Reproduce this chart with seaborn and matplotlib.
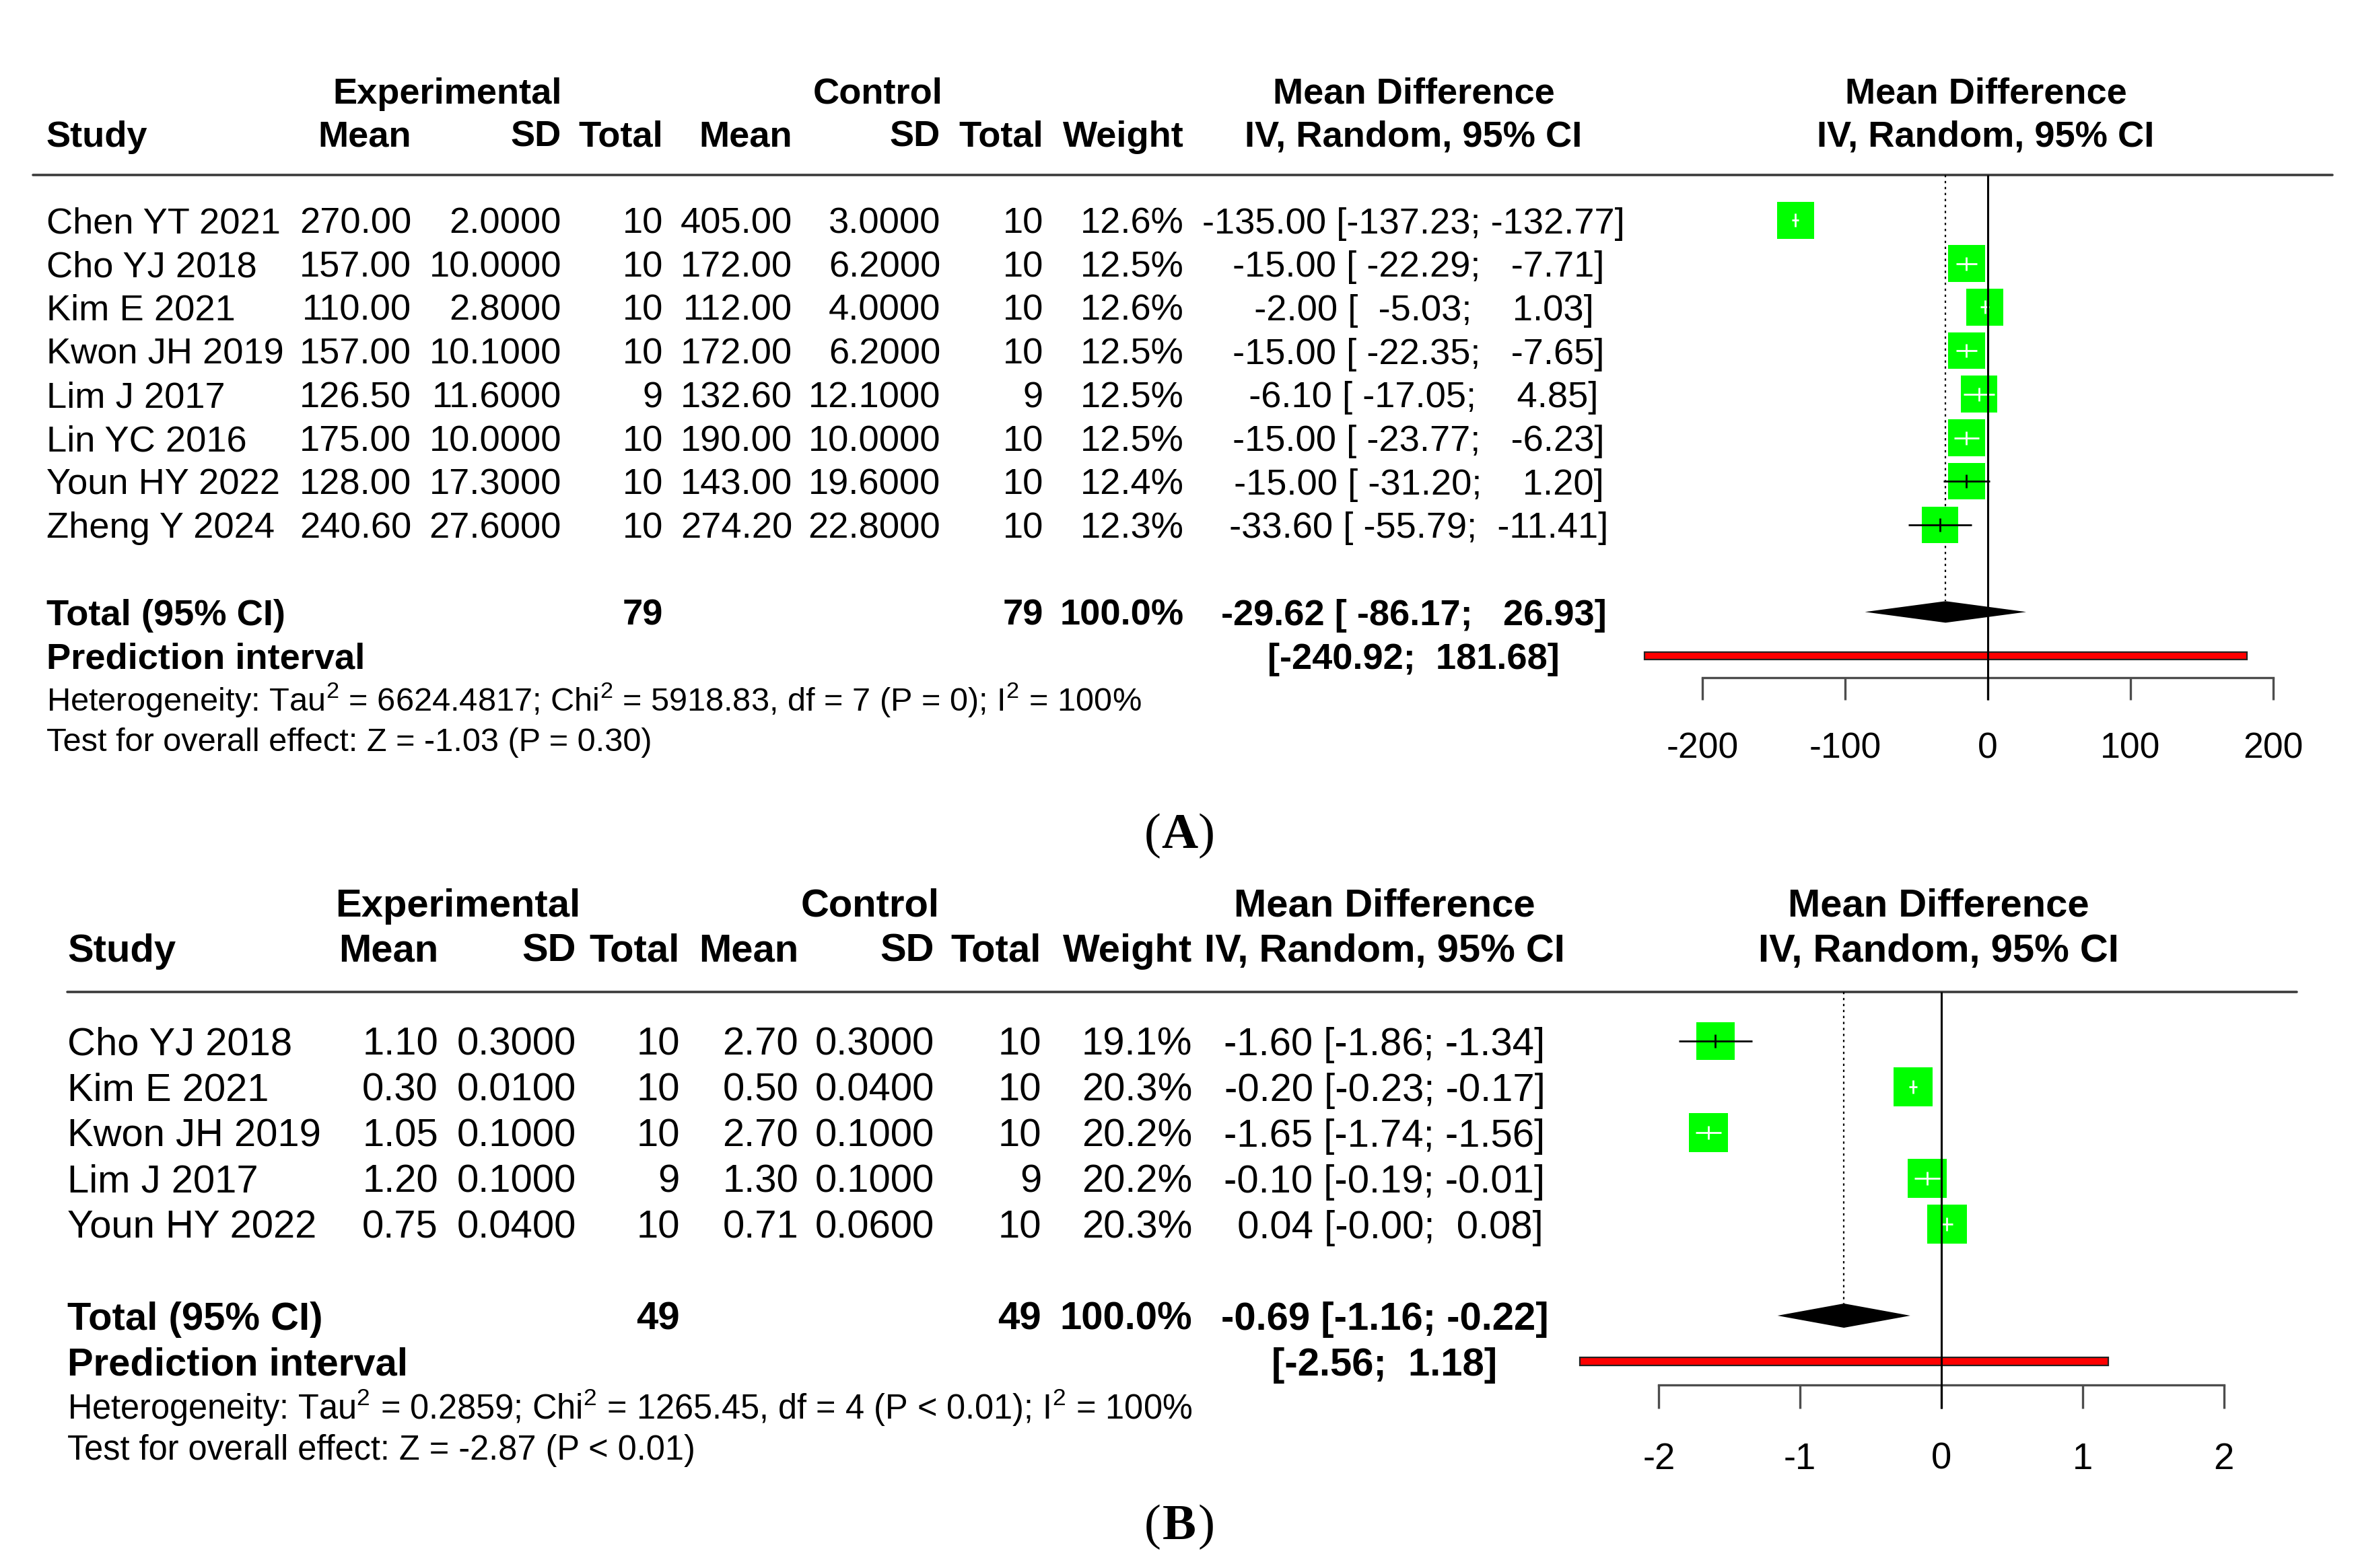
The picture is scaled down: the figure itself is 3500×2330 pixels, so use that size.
import numpy as np
import pandas as pd
import seaborn as sns
import matplotlib.pyplot as plt
from matplotlib.patches import Rectangle

# ---- panel A data (mean difference, random effects) ----
studies_a = ["Chen YT 2021", "Cho YJ 2018", "Kim E 2021", "Kwon JH 2019",
             "Lim J 2017", "Lin YC 2016", "Youn HY 2022", "Zheng Y 2024"]
exp_mean_a = [270.00, 157.00, 110.00, 157.00, 126.50, 175.00, 128.00, 240.60]
exp_sd_a = [2.0, 10.0, 2.8, 10.1, 11.6, 10.0, 17.3, 27.6]
exp_n_a = [10, 10, 10, 10, 9, 10, 10, 10]
ctl_mean_a = [405.00, 172.00, 112.00, 172.00, 132.60, 190.00, 143.00, 274.20]
ctl_sd_a = [3.0, 6.2, 4.0, 6.2, 12.1, 10.0, 19.6, 22.8]
ctl_n_a = [10, 10, 10, 10, 9, 10, 10, 10]
weight_a = [12.6, 12.5, 12.6, 12.5, 12.5, 12.5, 12.4, 12.3]
md_a = [-135.00, -15.00, -2.00, -15.00, -6.10, -15.00, -15.00, -33.60]
lo_a = [-137.23, -22.29, -5.03, -22.35, -17.05, -23.77, -31.20, -55.79]
hi_a = [-132.77, -7.71, 1.03, -7.65, 4.85, -6.23, 1.20, -11.41]
pooled_a = [-29.62, -86.17, 26.93]
pred_a = [-240.92, 181.68]
het_a = r"Heterogeneity: Tau$^2$ = 6624.4817; Chi$^2$ = 5918.83, df = 7 (P = 0); I$^2$ = 100%"
test_a = "Test for overall effect: Z = -1.03 (P = 0.30)"
ticks_a = [-200, -100, 0, 100, 200]

# ---- panel B data ----
studies_b = ["Cho YJ 2018", "Kim E 2021", "Kwon JH 2019", "Lim J 2017", "Youn HY 2022"]
exp_mean_b = [1.10, 0.30, 1.05, 1.20, 0.75]
exp_sd_b = [0.3, 0.01, 0.1, 0.1, 0.04]
exp_n_b = [10, 10, 10, 9, 10]
ctl_mean_b = [2.70, 0.50, 2.70, 1.30, 0.71]
ctl_sd_b = [0.3, 0.04, 0.1, 0.1, 0.06]
ctl_n_b = [10, 10, 10, 9, 10]
weight_b = [19.1, 20.3, 20.2, 20.2, 20.3]
md_b = [-1.60, -0.20, -1.65, -0.10, 0.04]
lo_b = [-1.86, -0.23, -1.74, -0.19, -0.00]
hi_b = [-1.34, -0.17, -1.56, -0.01, 0.08]
pooled_b = [-0.69, -1.16, -0.22]
pred_b = [-2.56, 1.18]
het_b = r"Heterogeneity: Tau$^2$ = 0.2859; Chi$^2$ = 1265.45, df = 4 (P < 0.01); I$^2$ = 100%"
test_b = "Test for overall effect: Z = -2.87 (P < 0.01)"
ticks_b = [-2, -1, 0, 1, 2]

sns.set_style("white")
plt.rcParams['font.family'] = ['Liberation Sans', 'DejaVu Sans']
plt.rcParams['mathtext.fontset'] = 'custom'
plt.rcParams['mathtext.rm'] = 'Liberation Sans'
plt.rcParams['mathtext.it'] = 'Liberation Sans:italic'
plt.rcParams['mathtext.bf'] = 'Liberation Sans:bold'
plt.rcParams['axes.unicode_minus'] = False

W, H = 3500, 2330
PT = 72 / 100  # points per pixel at dpi 100
GREEN = '#00ff00'
AXIS_GREY = '#4d4d4d'

fig = plt.figure(figsize=(W / 100, H / 100), dpi=100)
bg = fig.add_axes([0, 0, 1, 1])
bg.set_xlim(0, W)
bg.set_ylim(H, 0)
bg.axis('off')


def txt(x, y, s, em, ha='left', bold=False):
    bg.text(x, y + 0.36 * em, s, fontsize=em * PT, ha=ha, va='baseline',
            fontweight='bold' if bold else 'normal', color='black')


def panel(lay, studies, em_, esd, en, cm, csd, cn, wt, md, lo, hi,
          pooled, pred, het, test, ticks, label):
    y0, dy, em = lay['y0'], lay['dy'], lay['em']
    cols = lay['cols']
    k = len(studies)
    nd = lay['width']
    rowy = lambda r: y0 + dy * r

    # headers
    txt(lay['x_exp'], lay['h1'], "Experimental", em, 'center', True)
    txt(lay['x_ctl'], lay['h1'], "Control", em, 'center', True)
    txt(lay['x_ci'], lay['h1'], "Mean Difference", em, 'center', True)
    txt(lay['x_fh'], lay['h1'], "Mean Difference", em, 'center', True)
    txt(lay['x_study'], lay['h2'], "Study", em, 'left', True)
    for x, s in zip(cols, ["Mean", "SD", "Total", "Mean", "SD", "Total", "Weight"]):
        txt(x, lay['h2'], s, em, 'right', True)
    txt(lay['x_ci'], lay['h2'], "IV, Random, 95% CI", em, 'center', True)
    txt(lay['x_fh'], lay['h2'], "IV, Random, 95% CI", em, 'center', True)
    bg.plot(lay['line_x'], [rowy(lay['hline']), rowy(lay['hline'])], color='#3a3a3a', lw=2.6)

    # study rows
    for i in range(k):
        y = rowy(i)
        txt(lay['x_study'], y, studies[i], em)
        vals = [f"{em_[i]:.2f}", f"{esd[i]:.4f}", f"{en[i]}", f"{cm[i]:.2f}",
                f"{csd[i]:.4f}", f"{cn[i]}", f"{wt[i]:.1f}%"]
        for x, s in zip(cols, vals):
            txt(x, y, s, em, 'right')
        txt(lay['x_ci'], y, f"{md[i]:{nd}.2f} [{lo[i]:{nd}.2f}; {hi[i]:{nd}.2f}]", em, 'center')

    # totals
    rt, rp = k + 1, k + 2
    txt(lay['x_study'], rowy(rt), "Total (95% CI)", em, 'left', True)
    txt(cols[2], rowy(rt), f"{sum(en)}", em, 'right', True)
    txt(cols[5], rowy(rt), f"{sum(cn)}", em, 'right', True)
    txt(cols[6], rowy(rt), "100.0%", em, 'right', True)
    txt(lay['x_ci'], rowy(rt),
        f"{pooled[0]:.2f} [{pooled[1]:{nd}.2f}; {pooled[2]:{nd}.2f}]", em, 'center', True)
    txt(lay['x_study'], rowy(rp), "Prediction interval", em, 'left', True)
    txt(lay['x_ci'], rowy(rp), f"[{pred[0]:{nd}.2f}; {pred[1]:{nd}.2f}]", em, 'center', True)
    txt(lay['x_study'], lay['y_het'], het, lay['em_s'])
    txt(lay['x_study'], lay['y_test'], test, lay['em_s'])

    # panel label (A)/(B)
    lx, ly, lem = lay['lab']
    kw = dict(fontsize=lem * PT, va='baseline', family='Liberation Serif', color='black')
    bg.text(lx - 0.37 * lem, ly + 0.29 * lem, "(", ha='right', **kw)
    bg.text(lx, ly + 0.29 * lem, label, ha='center', fontweight='bold', **kw)
    bg.text(lx + 0.37 * lem, ly + 0.29 * lem, ")", ha='left', **kw)

    # forest plot axes, mapped onto the pixel layout
    L, R, T, B = lay['fax']
    x0, ppu = lay['x0'], lay['ppu']
    ax = fig.add_axes([L / W, 1 - B / H, (R - L) / W, (B - T) / H])
    ax.set_facecolor('none')

    df = pd.DataFrame({'md': md, 'row': np.arange(k), 'weight': wt})
    wmax = max(wt)
    smax = (lay['box'] * PT) ** 2
    sns.scatterplot(data=df, x='md', y='row', size='weight', sizes=(0, smax),
                    size_norm=(0, wmax), marker='s', color=GREEN, linewidth=0,
                    legend=False, ax=ax, zorder=3)
    for i in range(k):
        half = lay['box'] * np.sqrt(wt[i] / wmax) / 2 / ppu
        c = 'black' if (lo[i] < md[i] - half or hi[i] > md[i] + half) else 'white'
        ax.hlines(i, lo[i], hi[i], color=c, lw=2.0, zorder=4)
        ax.vlines(md[i], i - 10 / dy, i + 10 / dy, color=c, lw=2.0, zorder=4)

    hd = lay['dia'] / dy
    ax.fill([pooled[1], pooled[0], pooled[2], pooled[0]],
            [rt, rt - hd, rt, rt + hd], color='black', lw=0, zorder=3)
    hb = lay['bar'] / dy
    ax.add_patch(Rectangle((pred[0], rp - hb), pred[1] - pred[0], 2 * hb,
                           facecolor='red', edgecolor='#222222', lw=1.6, zorder=2))
    ax.vlines(0, lay['hline'], lay['axis'] + lay['tick'] / dy, color='black', lw=2.2, zorder=5)
    ax.vlines(pooled[0], lay['hline'], rt - hd, color='black', lw=1.6,
              linestyles=(0, (1.5, 2.5)), zorder=1)

    ax.set_xlim((L - x0) / ppu, (R - x0) / ppu)
    ax.set_ylim((B - y0) / dy, (T - y0) / dy)
    for s in ['top', 'left', 'right']:
        ax.spines[s].set_visible(False)
    ax.spines['bottom'].set_position(('data', lay['axis']))
    ax.spines['bottom'].set_bounds(ticks[0], ticks[-1])
    ax.spines['bottom'].set_linewidth(2.4)
    ax.spines['bottom'].set_color(AXIS_GREY)
    ax.set_xticks(ticks)
    ax.set_xticklabels([f"{t}" for t in ticks])
    ax.set_yticks([])
    ax.set_xlabel('')
    ax.set_ylabel('')
    ax.tick_params(axis='x', bottom=True, direction='out', length=lay['tick'] * PT,
                   width=2.4, color=AXIS_GREY, pad=lay['pad'],
                   labelsize=lay['tem'] * PT, labelcolor='black')


lay_a = dict(y0=327, dy=64.7, em=54.2, em_s=48.8, width=7,
             cols=[611, 834, 985, 1177, 1397, 1550, 1759],
             x_study=69, x_exp=665, x_ctl=1304, x_ci=2100, x_fh=2950,
             h1=134, h2=198, hline=-1.03, line_x=[49, 3465],
             y_het=1038, y_test=1098, lab=(1752, 1238, 75),
             fax=(2380, 3500, 230, 1180), x0=2953, ppu=2.118,
             box=55, dia=16, bar=5.5, axis=10.51, tick=33, pad=34, tem=53.5)
lay_b = dict(y0=1547, dy=68, em=58, em_s=50.5, width=5,
             cols=[651, 856, 1010, 1186, 1388, 1547, 1771],
             x_study=100, x_exp=680, x_ctl=1293, x_ci=2057, x_fh=2880,
             h1=1341, h2=1408, hline=-1.07, line_x=[100, 3412],
             y_het=2091, y_test=2151, lab=(1752, 2265, 75),
             fax=(2300, 3500, 1440, 2240), x0=2884, ppu=209.8,
             box=58.5, dia=18, bar=6, axis=7.51, tick=35, pad=36, tem=54.5)

panel(lay_a, studies_a, exp_mean_a, exp_sd_a, exp_n_a, ctl_mean_a, ctl_sd_a, ctl_n_a,
      weight_a, md_a, lo_a, hi_a, pooled_a, pred_a, het_a, test_a, ticks_a, "A")
panel(lay_b, studies_b, exp_mean_b, exp_sd_b, exp_n_b, ctl_mean_b, ctl_sd_b, ctl_n_b,
      weight_b, md_b, lo_b, hi_b, pooled_b, pred_b, het_b, test_b, ticks_b, "B")

fig.savefig('out.png', dpi=100)
